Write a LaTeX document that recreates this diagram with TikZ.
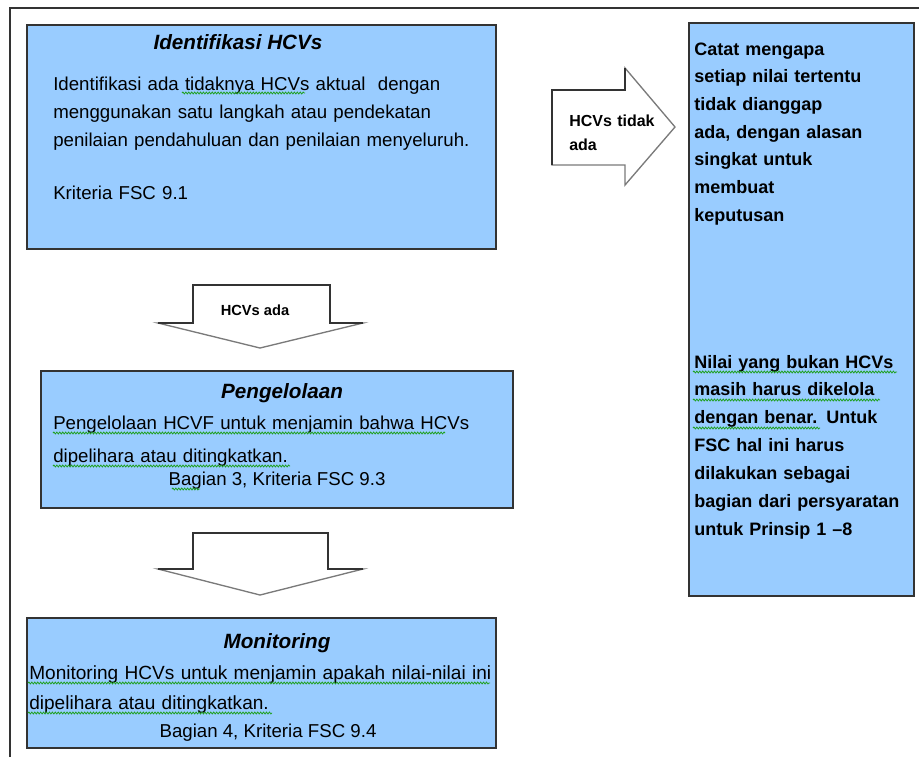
\documentclass[tikz,border=0pt]{standalone}
\usepackage{fontspec}
\setmainfont{Liberation Sans}
\usetikzlibrary{decorations.pathmorphing}
\definecolor{BoxClr}{HTML}{99CCFF}
\definecolor{EdgeClr}{HTML}{333333}
\definecolor{ArrowClr}{HTML}{7A7A7A}
\definecolor{SpellClr}{HTML}{1FA01F}

\begin{document}
\begin{tikzpicture}[x=0.75pt,y=-0.75pt,
  box/.style={rectangle,draw=EdgeClr,line width=1.5pt,fill=BoxClr,inner sep=0pt,anchor=north west},
  title/.style={anchor=base,inner sep=0pt,font=\fontsize{15.5}{18}\selectfont\bfseries\itshape},
  body/.style={anchor=base west,inner sep=0pt,align=left,text width=330pt,font=\fontsize{14}{21}\selectfont},
  note/.style={anchor=base west,inner sep=0pt,align=left,text width=165pt,font=\fontsize{13.5}{20.8}\selectfont\bfseries},
  ref/.style={anchor=base,inner sep=0pt,font=\fontsize{14}{17}\selectfont},
  blockarrow/.style={draw=ArrowClr,line width=1pt,fill=white,line join=miter},
  arrowedge/.style={draw=EdgeClr,line width=0.8pt},
  arrowtext/.style={anchor=base west,inner sep=0pt,align=left,text width=75pt,font=\fontsize{12}{18}\selectfont\bfseries},
  spell/.style={draw=SpellClr,line width=0.6pt,decorate,decoration={snake,segment length=2.2pt,amplitude=0.7pt}}]
\useasboundingbox (0,0) rectangle (919,757);

\draw[draw=EdgeClr,line width=1.5pt] (10,757) -- (10,8) -- (919,8);

\node[box,minimum width=351.75pt,minimum height=168pt] (ident) at (26,24) {};
\node[box,minimum width=168.75pt,minimum height=429.75pt] (nohcv) at (688,22) {};
\node[box,minimum width=354pt,minimum height=102.75pt] (kelola) at (40,370) {};
\node[box,minimum width=351.75pt,minimum height=97.5pt] (monitor) at (26,617) {};

\node[title] (identT) at (238,49) {Identifikasi HCVs};
\node[body] (identB) at (53,90) {Identifikasi ada tidaknya HCVs aktual \ dengan\\
  menggunakan satu langkah atau pendekatan\\
  penilaian pendahuluan dan penilaian menyeluruh.};
\node[body] (identR) at (53,199) {Kriteria FSC 9.1};

\draw[blockarrow] (552,90) -- (625,90) -- (625,68) -- (675,127) -- (625,185) -- (625,165) -- (552,165) -- cycle;
\draw[arrowedge] (552,165) -- (552,90) -- (625,90) -- (625,68);
\node[arrowtext] (tidak) at (569,126) {HCVs tidak\\ada};

\node[note] (alasan) at (694,55) {Catat mengapa\\
  setiap nilai tertentu\\
  tidak dianggap\\
  ada, dengan alasan\\
  singkat untuk\\
  membuat\\
  keputusan};
\node[note,font=\fontsize{13.5}{20.9}\selectfont\bfseries] (prinsip) at (694,368) {Nilai yang bukan HCVs\\
  masih harus dikelola\\
  dengan benar. Untuk\\
  FSC hal ini harus\\
  dilakukan sebagai\\
  bagian dari persyaratan\\
  untuk Prinsip 1 --8};

\draw[blockarrow] (193,285) -- (330,285) -- (330,323) -- (363,323) -- (260,348) -- (158,323) -- (193,323) -- cycle;
\draw[arrowedge] (158,323) -- (193,323) -- (193,285) -- (330,285) -- (330,323) -- (363,323);
\node[ref,font=\fontsize{11}{13}\selectfont\bfseries] (ada) at (255,315) {HCVs ada};

\node[title] (kelolaT) at (282,398) {Pengelolaan};
\node[body,font=\fontsize{14}{24.75}\selectfont] (kelolaB) at (53,429) {Pengelolaan HCVF untuk menjamin bahwa HCVs\\
  dipelihara atau ditingkatkan.};
\node[ref] (kelolaR) at (277,485) {Bagian 3, Kriteria FSC 9.3};

\draw[blockarrow] (193,533) -- (328,533) -- (328,569) -- (363,569) -- (260,595) -- (158,569) -- (193,569) -- cycle;
\draw[arrowedge] (158,569) -- (193,569) -- (193,533) -- (328,533) -- (328,569) -- (363,569);

\node[title] (monitorT) at (277,648) {Monitoring};
\node[body,text width=350pt,font=\fontsize{14.3}{22.5}\selectfont] (monitorB) at (29,679) {Monitoring HCVs untuk menjamin apakah nilai-nilai ini\\
  dipelihara atau ditingkatkan.};
\node[ref] (monitorR) at (268,737) {Bagian 4, Kriteria FSC 9.4};

\draw[spell] (182,93) -- (305,93);
\draw[spell] (693,372) -- (897,372);
\draw[spell] (693,400) -- (880,400);
\draw[spell] (693,428) -- (820,428);
\draw[spell] (53,433) -- (445,433);
\draw[spell] (53,466) -- (290,466);
\draw[spell] (172,489) -- (200,489);
\draw[spell] (28,683) -- (490,683);
\draw[spell] (28,713) -- (272,713);
\end{tikzpicture}
\end{document}
